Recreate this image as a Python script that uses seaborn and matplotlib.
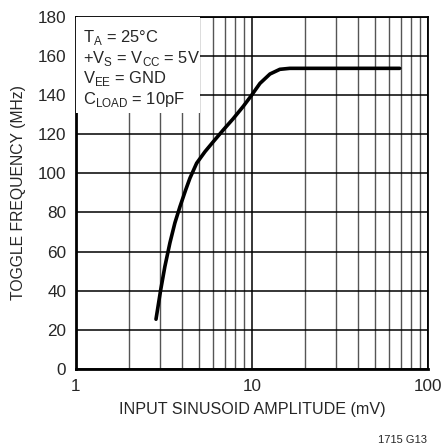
import numpy as np
import pandas as pd
import matplotlib
matplotlib.use("Agg")
import matplotlib.pyplot as plt
import matplotlib.ticker as mticker
from matplotlib.patches import Rectangle
import seaborn as sns

# toggle frequency vs input sinusoid amplitude
amplitude_mv = [2.85, 3.03, 3.2, 3.42, 3.65, 3.9, 4.2, 4.44, 4.85, 5.41, 6.03, 6.87,
                7.83, 8.93, 9.96, 11.1, 12.65, 14.4, 16.4, 30.0, 69.0]
toggle_mhz = [25.4, 40.4, 52.3, 64.5, 74.7, 83, 91.5, 97.5, 105.2, 111.1, 116.2, 122.2,
              128.0, 134.3, 140.0, 146.0, 150.8, 153.2, 153.7, 153.7, 153.7]

x_ticks = [1, 10, 100]
x_ticklabels = ["1", "10", "100"]
y_ticks = list(range(0, 181, 20))

notes = [r"T$_\mathregular{A}$ = 25°C",
         r"+V$_\mathregular{S}$ = V$_\mathregular{CC}$ = 5V",
         r"V$_\mathregular{EE}$ = GND",
         r"C$_\mathregular{LOAD}$ = 10pF"]

sns.set_style("white")
plt.rcParams["font.family"] = ["Liberation Sans", "DejaVu Sans"]
plt.rcParams["mathtext.fontset"] = "custom"
plt.rcParams["mathtext.rm"] = "Liberation Sans"

df = pd.DataFrame({"amp": amplitude_mv, "freq": toggle_mhz})

fig = plt.figure(figsize=(4.44, 4.45), dpi=100)
ax = fig.add_axes([0.171, 0.171, 0.793, 0.791])

sns.lineplot(data=df, x="amp", y="freq", sort=False, color="black", lw=2.6, ax=ax, zorder=5)

ax.set_xscale("log")
ax.set_xlim(1, 100)
ax.set_ylim(0, 180)
ax.set_xticks(x_ticks)
ax.set_xticklabels(x_ticklabels)
ax.xaxis.set_minor_locator(mticker.LogLocator(base=10, subs=np.arange(2, 10)))
ax.xaxis.set_minor_formatter(mticker.NullFormatter())
ax.set_yticks(y_ticks)

ax.grid(which="major", color="black", lw=1.1)
ax.grid(which="minor", axis="x", color="#555555", lw=1.0)
ax.set_axisbelow(True)
ax.tick_params(which="both", length=0, labelsize=12.3, pad=7)
for side in ["left", "bottom"]:
    ax.spines[side].set_linewidth(2.0)
    ax.spines[side].set_color("black")
for side in ["top", "right"]:
    ax.spines[side].set_linewidth(1.3)
    ax.spines[side].set_color("black")

ax.set_xlabel("INPUT SINUSOID AMPLITUDE (mV)", fontsize=11.6, labelpad=6)
ax.set_ylabel("TOGGLE FREQUENCY (MHz)", fontsize=11.3, labelpad=8)

# white area behind the condition notes
ax.add_patch(Rectangle((0.0, 0.727), 0.352, 0.273, transform=ax.transAxes,
                       facecolor="white", edgecolor="none", zorder=3))
for i, t in enumerate(notes):
    ax.text(0.02, 0.929 - i * 0.0588, t, transform=ax.transAxes, fontsize=11.9,
            va="baseline", ha="left", zorder=6)

fig.text(0.907, 0.012, "1715 G13", fontsize=8, ha="center", va="center")

fig.savefig("out.png", dpi=100)
